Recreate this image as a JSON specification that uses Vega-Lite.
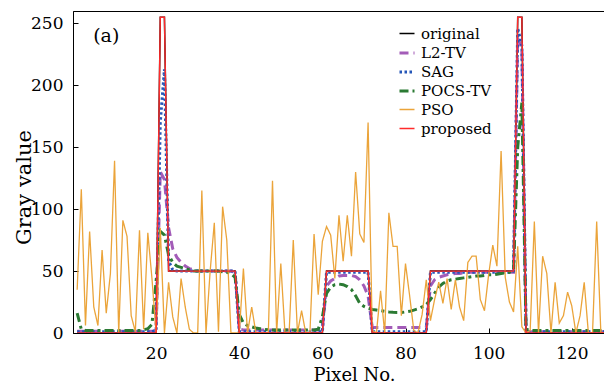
{
"$schema":"https://vega.github.io/schema/vega-lite/v6.json",
"width":532,"height":322,
"autosize":"none",
"padding":{"left":73,"top":11,"right":0,"bottom":50},
"background":"white",
"config":{"view":{"stroke":"#000","strokeWidth":1},"font":"DejaVu Serif",
 "axis":{"grid":false,"domainColor":"#000","domainWidth":1,"tickColor":"#000","tickSize":-5,"labelColor":"#000","titleColor":"#000","titleFontWeight":"normal","labelFont":"DejaVu Serif","titleFont":"DejaVu Serif","labelFontSize":17}},
"layer":[
{"data":{"values":[
{"x":1,"original":0,"L2-TV":1.5,"SAG":1,"POCS-TV":16,"PSO":35,"proposed":0},
{"x":2,"original":0,"L2-TV":1.5,"SAG":1,"POCS-TV":3,"PSO":116,"proposed":0},
{"x":3,"original":0,"L2-TV":1.5,"SAG":1,"POCS-TV":2,"PSO":6,"proposed":0},
{"x":4,"original":0,"L2-TV":1.5,"SAG":1,"POCS-TV":2,"PSO":82,"proposed":0},
{"x":5,"original":0,"L2-TV":1.5,"SAG":1,"POCS-TV":2,"PSO":21,"proposed":0},
{"x":6,"original":0,"L2-TV":1.5,"SAG":1,"POCS-TV":2,"PSO":6,"proposed":0},
{"x":7,"original":0,"L2-TV":1.5,"SAG":1,"POCS-TV":2,"PSO":67,"proposed":0},
{"x":8,"original":0,"L2-TV":1.5,"SAG":1,"POCS-TV":2,"PSO":16,"proposed":0},
{"x":9,"original":0,"L2-TV":1.5,"SAG":1,"POCS-TV":2,"PSO":48,"proposed":0},
{"x":10,"original":0,"L2-TV":1.5,"SAG":1,"POCS-TV":2,"PSO":139,"proposed":0},
{"x":11,"original":0,"L2-TV":1.5,"SAG":1,"POCS-TV":2,"PSO":0,"proposed":0},
{"x":12,"original":0,"L2-TV":1.5,"SAG":1,"POCS-TV":2,"PSO":91,"proposed":0},
{"x":13,"original":0,"L2-TV":1.5,"SAG":1,"POCS-TV":2,"PSO":78,"proposed":0},
{"x":14,"original":0,"L2-TV":1.5,"SAG":1,"POCS-TV":2,"PSO":14,"proposed":0},
{"x":15,"original":0,"L2-TV":1.5,"SAG":1,"POCS-TV":2,"PSO":1,"proposed":0},
{"x":16,"original":0,"L2-TV":1.5,"SAG":1,"POCS-TV":2,"PSO":83,"proposed":0},
{"x":17,"original":0,"L2-TV":1.5,"SAG":1,"POCS-TV":2.5,"PSO":3,"proposed":0},
{"x":18,"original":0,"L2-TV":1.5,"SAG":1,"POCS-TV":3.5,"PSO":81,"proposed":0},
{"x":19,"original":0,"L2-TV":1.5,"SAG":1,"POCS-TV":7,"PSO":44,"proposed":0},
{"x":20,"original":0,"L2-TV":2,"SAG":2,"POCS-TV":42,"PSO":0,"proposed":0},
{"x":21,"original":255,"L2-TV":130,"SAG":170,"POCS-TV":82,"PSO":85,"proposed":255},
{"x":22,"original":255,"L2-TV":124,"SAG":213,"POCS-TV":79,"PSO":0,"proposed":255},
{"x":23,"original":50,"L2-TV":85,"SAG":58,"POCS-TV":63,"PSO":41,"proposed":50},
{"x":24,"original":50,"L2-TV":68,"SAG":51,"POCS-TV":57,"PSO":13,"proposed":50},
{"x":25,"original":50,"L2-TV":61,"SAG":50,"POCS-TV":54,"PSO":0,"proposed":50},
{"x":26,"original":50,"L2-TV":57,"SAG":50,"POCS-TV":53,"PSO":44,"proposed":50},
{"x":27,"original":50,"L2-TV":54,"SAG":50,"POCS-TV":52,"PSO":21,"proposed":50},
{"x":28,"original":50,"L2-TV":52,"SAG":50,"POCS-TV":51,"PSO":3,"proposed":50},
{"x":29,"original":50,"L2-TV":51,"SAG":50,"POCS-TV":50,"PSO":0,"proposed":50},
{"x":30,"original":50,"L2-TV":50,"SAG":50,"POCS-TV":50,"PSO":0,"proposed":50},
{"x":31,"original":50,"L2-TV":50,"SAG":50,"POCS-TV":50,"PSO":115,"proposed":50},
{"x":32,"original":50,"L2-TV":50,"SAG":50,"POCS-TV":50,"PSO":0,"proposed":50},
{"x":33,"original":50,"L2-TV":50,"SAG":50,"POCS-TV":50,"PSO":50,"proposed":50},
{"x":34,"original":50,"L2-TV":50,"SAG":50,"POCS-TV":50,"PSO":89,"proposed":50},
{"x":35,"original":50,"L2-TV":50,"SAG":50,"POCS-TV":50,"PSO":1,"proposed":50},
{"x":36,"original":50,"L2-TV":50,"SAG":50,"POCS-TV":49.5,"PSO":102,"proposed":50},
{"x":37,"original":50,"L2-TV":50,"SAG":50,"POCS-TV":49,"PSO":75,"proposed":50},
{"x":38,"original":50,"L2-TV":50,"SAG":50,"POCS-TV":48,"PSO":0,"proposed":50},
{"x":39,"original":50,"L2-TV":49,"SAG":50,"POCS-TV":45,"PSO":0,"proposed":50},
{"x":40,"original":0,"L2-TV":3,"SAG":1,"POCS-TV":15,"PSO":0,"proposed":0},
{"x":41,"original":0,"L2-TV":2.5,"SAG":1,"POCS-TV":8,"PSO":52,"proposed":0},
{"x":42,"original":0,"L2-TV":2.5,"SAG":1,"POCS-TV":6,"PSO":0,"proposed":0},
{"x":43,"original":0,"L2-TV":2.5,"SAG":1,"POCS-TV":5,"PSO":21,"proposed":0},
{"x":44,"original":0,"L2-TV":2.5,"SAG":1,"POCS-TV":4,"PSO":0,"proposed":0},
{"x":45,"original":0,"L2-TV":2.5,"SAG":1,"POCS-TV":3.5,"PSO":0,"proposed":0},
{"x":46,"original":0,"L2-TV":2.5,"SAG":1,"POCS-TV":3,"PSO":0,"proposed":0},
{"x":47,"original":0,"L2-TV":2.5,"SAG":1,"POCS-TV":2.5,"PSO":0,"proposed":0},
{"x":48,"original":0,"L2-TV":2.5,"SAG":1,"POCS-TV":2.5,"PSO":123,"proposed":0},
{"x":49,"original":0,"L2-TV":2.5,"SAG":1,"POCS-TV":2.5,"PSO":0,"proposed":0},
{"x":50,"original":0,"L2-TV":2.5,"SAG":1,"POCS-TV":2.5,"PSO":56,"proposed":0},
{"x":51,"original":0,"L2-TV":2.5,"SAG":1,"POCS-TV":2.5,"PSO":0,"proposed":0},
{"x":52,"original":0,"L2-TV":2.5,"SAG":1,"POCS-TV":2.5,"PSO":0,"proposed":0},
{"x":53,"original":0,"L2-TV":2.5,"SAG":1,"POCS-TV":2.5,"PSO":75,"proposed":0},
{"x":54,"original":0,"L2-TV":2.5,"SAG":1,"POCS-TV":2.5,"PSO":0,"proposed":0},
{"x":55,"original":0,"L2-TV":2.5,"SAG":1,"POCS-TV":2.5,"PSO":18,"proposed":0},
{"x":56,"original":0,"L2-TV":2.5,"SAG":1,"POCS-TV":2.5,"PSO":0,"proposed":0},
{"x":57,"original":0,"L2-TV":2.5,"SAG":1,"POCS-TV":2.5,"PSO":0,"proposed":0},
{"x":58,"original":0,"L2-TV":2.5,"SAG":1,"POCS-TV":2.5,"PSO":80,"proposed":0},
{"x":59,"original":0,"L2-TV":2.5,"SAG":1,"POCS-TV":3,"PSO":31,"proposed":0},
{"x":60,"original":0,"L2-TV":3,"SAG":1,"POCS-TV":13,"PSO":74,"proposed":0},
{"x":61,"original":50,"L2-TV":38,"SAG":49,"POCS-TV":32,"PSO":86,"proposed":50},
{"x":62,"original":50,"L2-TV":42,"SAG":49,"POCS-TV":37,"PSO":79,"proposed":50},
{"x":63,"original":50,"L2-TV":44,"SAG":49,"POCS-TV":39,"PSO":44,"proposed":50},
{"x":64,"original":50,"L2-TV":46,"SAG":49,"POCS-TV":39.5,"PSO":95,"proposed":50},
{"x":65,"original":50,"L2-TV":46.5,"SAG":49,"POCS-TV":39,"PSO":58,"proposed":50},
{"x":66,"original":50,"L2-TV":46.5,"SAG":49,"POCS-TV":37.5,"PSO":95,"proposed":50},
{"x":67,"original":50,"L2-TV":46.5,"SAG":49,"POCS-TV":35,"PSO":62,"proposed":50},
{"x":68,"original":50,"L2-TV":45.5,"SAG":49,"POCS-TV":30,"PSO":130,"proposed":50},
{"x":69,"original":50,"L2-TV":43,"SAG":49,"POCS-TV":24,"PSO":80,"proposed":50},
{"x":70,"original":50,"L2-TV":38,"SAG":49,"POCS-TV":21.5,"PSO":73,"proposed":50},
{"x":71,"original":50,"L2-TV":30,"SAG":49,"POCS-TV":20,"PSO":170,"proposed":50},
{"x":72,"original":0,"L2-TV":4.5,"SAG":1,"POCS-TV":19,"PSO":2,"proposed":0},
{"x":73,"original":0,"L2-TV":4.5,"SAG":1,"POCS-TV":18.5,"PSO":0,"proposed":0},
{"x":74,"original":0,"L2-TV":4.5,"SAG":1,"POCS-TV":18,"PSO":34,"proposed":0},
{"x":75,"original":0,"L2-TV":4.5,"SAG":1,"POCS-TV":17.5,"PSO":0,"proposed":0},
{"x":76,"original":0,"L2-TV":4.5,"SAG":1,"POCS-TV":17,"PSO":97,"proposed":0},
{"x":77,"original":0,"L2-TV":4.5,"SAG":1,"POCS-TV":16.7,"PSO":70,"proposed":0},
{"x":78,"original":0,"L2-TV":4.5,"SAG":1,"POCS-TV":16.5,"PSO":70,"proposed":0},
{"x":79,"original":0,"L2-TV":4.5,"SAG":1,"POCS-TV":16.5,"PSO":14,"proposed":0},
{"x":80,"original":0,"L2-TV":4.5,"SAG":1,"POCS-TV":17,"PSO":56,"proposed":0},
{"x":81,"original":0,"L2-TV":4.5,"SAG":1,"POCS-TV":17.5,"PSO":30,"proposed":0},
{"x":82,"original":0,"L2-TV":4.5,"SAG":1,"POCS-TV":18.5,"PSO":2,"proposed":0},
{"x":83,"original":0,"L2-TV":4.5,"SAG":1,"POCS-TV":19.5,"PSO":0,"proposed":0},
{"x":84,"original":0,"L2-TV":4.5,"SAG":1,"POCS-TV":21,"PSO":15,"proposed":0},
{"x":85,"original":0,"L2-TV":4.5,"SAG":1,"POCS-TV":23,"PSO":43,"proposed":0},
{"x":86,"original":50,"L2-TV":38,"SAG":49,"POCS-TV":27,"PSO":10,"proposed":50},
{"x":87,"original":50,"L2-TV":43,"SAG":49,"POCS-TV":32,"PSO":27,"proposed":50},
{"x":88,"original":50,"L2-TV":45,"SAG":49,"POCS-TV":37,"PSO":41,"proposed":50},
{"x":89,"original":50,"L2-TV":46,"SAG":49,"POCS-TV":40,"PSO":24,"proposed":50},
{"x":90,"original":50,"L2-TV":47,"SAG":49,"POCS-TV":42,"PSO":44,"proposed":50},
{"x":91,"original":50,"L2-TV":47.5,"SAG":49,"POCS-TV":43,"PSO":19,"proposed":50},
{"x":92,"original":50,"L2-TV":48,"SAG":49,"POCS-TV":43.5,"PSO":43,"proposed":50},
{"x":93,"original":50,"L2-TV":48,"SAG":49,"POCS-TV":44,"PSO":21,"proposed":50},
{"x":94,"original":50,"L2-TV":48.5,"SAG":49,"POCS-TV":44.5,"PSO":10,"proposed":50},
{"x":95,"original":50,"L2-TV":49,"SAG":49,"POCS-TV":45,"PSO":57,"proposed":50},
{"x":96,"original":50,"L2-TV":49,"SAG":49,"POCS-TV":45.5,"PSO":62,"proposed":50},
{"x":97,"original":50,"L2-TV":49,"SAG":49,"POCS-TV":46,"PSO":62,"proposed":50},
{"x":98,"original":50,"L2-TV":49,"SAG":49,"POCS-TV":46,"PSO":27,"proposed":50},
{"x":99,"original":50,"L2-TV":49,"SAG":49,"POCS-TV":46.5,"PSO":18,"proposed":50},
{"x":100,"original":50,"L2-TV":49,"SAG":49,"POCS-TV":47,"PSO":47,"proposed":50},
{"x":101,"original":50,"L2-TV":49,"SAG":49,"POCS-TV":47,"PSO":71,"proposed":50},
{"x":102,"original":50,"L2-TV":49,"SAG":49,"POCS-TV":47.5,"PSO":54,"proposed":50},
{"x":103,"original":50,"L2-TV":49,"SAG":49,"POCS-TV":48,"PSO":147,"proposed":50},
{"x":104,"original":50,"L2-TV":49,"SAG":49,"POCS-TV":48.5,"PSO":45,"proposed":50},
{"x":105,"original":50,"L2-TV":49,"SAG":49,"POCS-TV":49,"PSO":25,"proposed":50},
{"x":106,"original":50,"L2-TV":49,"SAG":50,"POCS-TV":51,"PSO":17,"proposed":50},
{"x":107,"original":255,"L2-TV":238,"SAG":246,"POCS-TV":150,"PSO":70,"proposed":255},
{"x":108,"original":255,"L2-TV":230,"SAG":232,"POCS-TV":186,"PSO":5,"proposed":255},
{"x":109,"original":0,"L2-TV":1,"SAG":1,"POCS-TV":3,"PSO":0,"proposed":0},
{"x":110,"original":0,"L2-TV":1,"SAG":1,"POCS-TV":2,"PSO":2,"proposed":0},
{"x":111,"original":0,"L2-TV":1,"SAG":1,"POCS-TV":2,"PSO":90,"proposed":0},
{"x":112,"original":0,"L2-TV":1,"SAG":1,"POCS-TV":2,"PSO":0,"proposed":0},
{"x":113,"original":0,"L2-TV":1,"SAG":1,"POCS-TV":2,"PSO":62,"proposed":0},
{"x":114,"original":0,"L2-TV":1,"SAG":1,"POCS-TV":2,"PSO":48,"proposed":0},
{"x":115,"original":0,"L2-TV":1,"SAG":1,"POCS-TV":2,"PSO":0,"proposed":0},
{"x":116,"original":0,"L2-TV":1,"SAG":1,"POCS-TV":2,"PSO":41,"proposed":0},
{"x":117,"original":0,"L2-TV":1,"SAG":1,"POCS-TV":2,"PSO":8,"proposed":0},
{"x":118,"original":0,"L2-TV":1,"SAG":1,"POCS-TV":2,"PSO":14,"proposed":0},
{"x":119,"original":0,"L2-TV":1,"SAG":1,"POCS-TV":2,"PSO":33,"proposed":0},
{"x":120,"original":0,"L2-TV":1,"SAG":1,"POCS-TV":2,"PSO":22,"proposed":0},
{"x":121,"original":0,"L2-TV":1,"SAG":1,"POCS-TV":2,"PSO":0,"proposed":0},
{"x":122,"original":0,"L2-TV":1,"SAG":1,"POCS-TV":2,"PSO":14,"proposed":0},
{"x":123,"original":0,"L2-TV":1,"SAG":1,"POCS-TV":2,"PSO":41,"proposed":0},
{"x":124,"original":0,"L2-TV":1,"SAG":1,"POCS-TV":2,"PSO":0,"proposed":0},
{"x":125,"original":0,"L2-TV":1,"SAG":1,"POCS-TV":2,"PSO":0,"proposed":0},
{"x":126,"original":0,"L2-TV":1,"SAG":1,"POCS-TV":2,"PSO":90,"proposed":0},
{"x":127,"original":0,"L2-TV":1,"SAG":1,"POCS-TV":2,"PSO":0,"proposed":0},
{"x":128,"original":0,"L2-TV":1,"SAG":1,"POCS-TV":2,"PSO":0,"proposed":0}
]},
"transform":[{"fold":["original","L2-TV","SAG","POCS-TV","PSO","proposed"],"as":["series","value"]}],
"mark":{"type":"line","clip":true,"strokeCap":"butt","strokeJoin":"miter"},
"encoding":{
 "x":{"field":"x","type":"quantitative","scale":{"domain":[0,128],"nice":false,"zero":false},
  "axis":{"values":[20,40,60,80,100,120],"labelPadding":17,"title":"Pixel No.","titleFontSize":18,"titleX":281,"titleY":47,"titleBaseline":"alphabetic","titleAlign":"center","titleAnchor":null}},
 "y":{"field":"value","type":"quantitative","scale":{"domain":[0,260],"nice":false},
  "axis":{"values":[0,50,100,150,200,250],"labelPadding":15,"title":"Gray value","titleFontSize":21,"titleX":-43,"titleY":176,"titleBaseline":"alphabetic","titleAlign":"center","titleAngle":-90}},
 "color":{"field":"series","type":"nominal","scale":{"domain":["original","L2-TV","SAG","POCS-TV","PSO","proposed"],"range":["#000000","#a35cb8","#2456b8","#2b7a33","#eba43a","#ff2b2b"]},
  "legend":{"orient":"none","legendX":325,"legendY":14,"title":null,"labelFontSize":15,"labelFont":"DejaVu Serif","labelColor":"#000","symbolType":"stroke","symbolSize":225,"symbolStrokeWidth":2.5,"rowPadding":2,"labelOffset":5,"padding":0}},
 "strokeDash":{"field":"series","type":"nominal","scale":{"domain":["original","L2-TV","SAG","POCS-TV","PSO","proposed"],"range":[[1,0],[9,5],[2.5,2.5],[9,4,3,4],[1,0],[1,0]]},
  "legend":{"orient":"none","legendX":325,"legendY":14,"title":null,"labelFontSize":15,"labelFont":"DejaVu Serif","labelColor":"#000","symbolType":"stroke","symbolSize":225,"symbolStrokeWidth":2.5,"rowPadding":2,"labelOffset":5,"padding":0}},
 "strokeWidth":{"field":"series","type":"nominal","scale":{"type":"ordinal","domain":["original","L2-TV","SAG","POCS-TV","PSO","proposed"],"range":[1.5,3,3,3,1.3,1.4]},"legend":null}
}},
{"data":{"values":[{"x":8,"y":240,"label":"(a)"}]},
 "mark":{"type":"text","font":"DejaVu Serif","fontSize":19,"color":"#000","align":"center","baseline":"middle"},
 "encoding":{"x":{"field":"x","type":"quantitative"},"y":{"field":"y","type":"quantitative"},"text":{"field":"label"}}}
]
}
